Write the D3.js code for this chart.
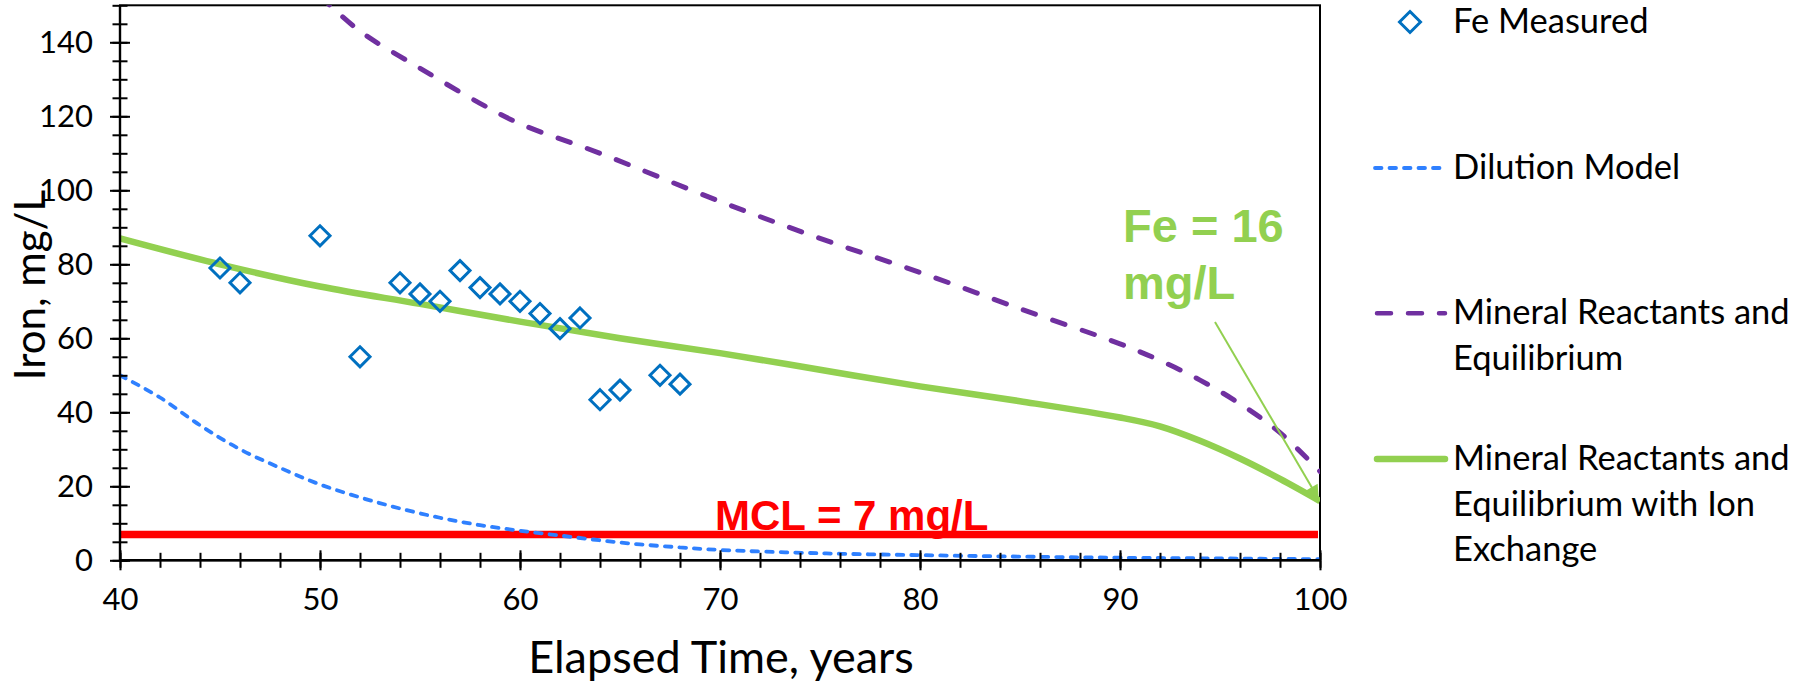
<!DOCTYPE html>
<html>
<head>
<meta charset="utf-8">
<script src="https://cdn.jsdelivr.net/npm/d3@7"></script>
<style>
  html, body { margin: 0; padding: 0; background: #fff; }
  svg { display: block; font-family: Lato, "Open Sans", sans-serif; }
</style>
</head>
<body>
<svg id="chart" width="1808" height="682"></svg>
<script>
// Measured iron concentrations
const measuredYears = [45, 46, 50, 52, 54, 55, 56, 57, 58, 59, 60, 61, 62, 63, 64, 65, 67, 68];
const measuredFe    = [79, 75, 87.7, 55, 75, 72, 70, 78.3, 73.7, 72, 70, 66.7, 62.6, 65.5, 43.4, 46, 50, 47.6];

// Dilution model
const dilutionYears = [40, 42, 44, 46, 48, 50, 52, 54, 56, 58, 60, 62, 64, 66, 68, 70, 75, 80, 85, 90, 95, 100];
const dilutionFe    = [50, 44, 36.5, 30, 25, 20.5, 17, 14, 11.5, 9.5, 8, 6.7, 5.4, 4.3, 3.5, 2.8, 1.9, 1.4, 1.0, 0.7, 0.5, 0.3];

// Mineral reactants and equilibrium
const mineralYears = [50, 52, 55, 58, 60, 64, 70, 75, 80, 85, 90, 92, 94, 96, 98, 100];
const mineralFe    = [152.5, 143, 133, 123.5, 118, 110, 97, 87, 77.8, 68, 58.5, 54, 48.7, 42.3, 34.5, 24];

// Mineral reactants and equilibrium with ion exchange
const ionExYears = [40, 45, 50, 55, 60, 65, 70, 75, 80, 85, 90, 92, 94, 96, 98, 100];
const ionExFe    = [87, 80, 74, 69.3, 64.5, 60, 56, 51.5, 47, 43, 38.6, 36.2, 32.3, 27.5, 22, 16];

// Reference levels and annotations
const mclValue = 7;
const annotatedYear = 100;
const annotatedFe = 16;

// Axis ticks
const xTicks = [40, 50, 60, 70, 80, 90, 100];
const xMinorTicks = d3.range(40, 101, 2);
const yTicks = [0, 20, 40, 60, 80, 100, 120, 140];
const yMinorTicks = d3.range(0, 151, 5);

// Legend entries
const legendLabels = [
  ["Fe Measured"],
  ["Dilution Model"],
  ["Mineral Reactants and", "Equilibrium"],
  ["Mineral Reactants and", "Equilibrium with Ion", "Exchange"]
];

const COLORS = {
  measured: "#0070C0",
  dilution: "#2F80FF",
  mineral: "#7030A0",
  ionEx: "#92D050",
  mcl: "#FF0000"
};

const svg = d3.select("#chart");
const plot = { left: 120, top: 5.3, right: 1320, bottom: 560.3 };

const x = d3.scaleLinear().domain([40, 100]).range([plot.left, plot.right]);
const y = d3.scaleLinear().domain([0, 150]).range([plot.bottom, plot.top]);

const defs = svg.append("defs");
defs.append("clipPath").attr("id", "plot-clip")
  .append("rect")
  .attr("x", plot.left).attr("y", plot.top)
  .attr("width", plot.right - plot.left).attr("height", plot.bottom - plot.top);

defs.append("marker")
  .attr("id", "arrow-head")
  .attr("viewBox", "0 0 10 10")
  .attr("refX", 9).attr("refY", 5)
  .attr("markerWidth", 8).attr("markerHeight", 7)
  .attr("markerUnits", "strokeWidth")
  .attr("orient", "auto")
  .append("path").attr("d", "M0,0 L10,5 L0,10 Z").attr("fill", COLORS.ionEx);

// Plot frame
svg.append("rect")
  .attr("x", plot.left).attr("y", plot.top)
  .attr("width", plot.right - plot.left).attr("height", plot.bottom - plot.top)
  .attr("fill", "none").attr("stroke", "#000").attr("stroke-width", 2);

const line = (xs, ys) => d3.line()
  .x((d, i) => x(xs[i]))
  .y((d, i) => y(ys[i]))
  .curve(d3.curveCatmullRom.alpha(0.5))(xs);

const series = svg.append("g").attr("clip-path", "url(#plot-clip)");

// MCL reference line
series.append("line")
  .attr("x1", x(40)).attr("x2", x(100) - 2)
  .attr("y1", y(mclValue)).attr("y2", y(mclValue))
  .attr("stroke", COLORS.mcl).attr("stroke-width", 7.5);

series.append("path")
  .attr("d", line(dilutionYears, dilutionFe))
  .attr("fill", "none").attr("stroke", COLORS.dilution)
  .attr("stroke-width", 3.8).attr("stroke-linecap", "round")
  .attr("stroke-dasharray", "6.5 8");

series.append("path")
  .attr("d", line(mineralYears, mineralFe))
  .attr("fill", "none").attr("stroke", COLORS.mineral)
  .attr("stroke-width", 5).attr("stroke-linecap", "round")
  .attr("stroke-dasharray", "13 18");

series.append("path")
  .attr("d", line(ionExYears, ionExFe))
  .attr("fill", "none").attr("stroke", COLORS.ionEx)
  .attr("stroke-width", 6.5);

// Measured diamonds
const diamond = r => `M0,${-r} L${r},0 L0,${r} L${-r},0 Z`;
svg.append("g").selectAll("path")
  .data(measuredYears)
  .join("path")
  .attr("transform", (d, i) => `translate(${x(d)},${y(measuredFe[i])})`)
  .attr("d", diamond(10))
  .attr("fill", "none").attr("stroke", COLORS.measured).attr("stroke-width", 3);

// Axes with ticks crossing the axis lines
function crossAxis(outer, inner, transform, major, minor, padding) {
  const g = svg.append("g").attr("transform", transform);
  g.append("g").call(outer().tickValues(minor).tickSize(7.5).tickFormat(""));
  g.append("g").call(inner().tickValues(minor).tickSize(7.5).tickFormat(""));
  g.append("g").call(inner().tickValues(major).tickSize(10).tickFormat(""));
  g.append("g").attr("class", "major")
    .call(outer().tickValues(major).tickSize(10).tickPadding(padding));
  g.selectAll(".domain").remove();
  g.selectAll("line").attr("stroke", "#000").attr("stroke-width", 2);
  g.selectAll(".major").attr("font-size", 31).attr("font-family", "Lato, sans-serif");
  g.selectAll(".major text").attr("fill", "#000");
  return g;
}

crossAxis(() => d3.axisLeft(y), () => d3.axisRight(y),
  `translate(${plot.left},0)`, yTicks, yMinorTicks, 17);

crossAxis(() => d3.axisBottom(x), () => d3.axisTop(x),
  `translate(0,${plot.bottom})`, xTicks, xMinorTicks, 18);

// Axis lines
svg.append("line")
  .attr("x1", plot.left).attr("x2", plot.left)
  .attr("y1", plot.top).attr("y2", plot.bottom + 1)
  .attr("stroke", "#000").attr("stroke-width", 2.4);
svg.append("line")
  .attr("x1", plot.left - 1).attr("x2", plot.right)
  .attr("y1", plot.bottom).attr("y2", plot.bottom)
  .attr("stroke", "#000").attr("stroke-width", 2.4);

// Axis titles
svg.append("text")
  .attr("x", 721).attr("y", 673)
  .attr("text-anchor", "middle")
  .attr("font-size", 45)
  .attr("fill", "#000")
  .text("Elapsed Time, years");

svg.append("text")
  .attr("transform", "translate(45,285) rotate(-90)")
  .attr("text-anchor", "middle")
  .attr("font-size", 42)
  .attr("fill", "#000")
  .text("Iron, mg/L");

// Annotations
svg.append("text")
  .attr("x", 715).attr("y", 530)
  .attr("font-family", "'Liberation Sans', Arial, sans-serif")
  .attr("font-weight", "bold").attr("font-size", 42)
  .attr("fill", COLORS.mcl)
  .text(`MCL = ${mclValue} mg/L`);

const feNote = svg.append("text")
  .attr("font-family", "'Liberation Sans', Arial, sans-serif")
  .attr("font-weight", "bold").attr("font-size", 47)
  .attr("fill", COLORS.ionEx);
feNote.append("tspan").attr("x", 1123).attr("y", 242).text(`Fe = ${annotatedFe}`);
feNote.append("tspan").attr("x", 1123).attr("y", 299).text("mg/L");

svg.append("line")
  .attr("x1", 1215).attr("y1", 322)
  .attr("x2", x(annotatedYear) - 2).attr("y2", y(annotatedFe) - 3)
  .attr("stroke", COLORS.ionEx).attr("stroke-width", 2)
  .attr("marker-end", "url(#arrow-head)");

// Legend
const legend = svg.append("g").attr("font-size", 34.5).attr("fill", "#000");
const legendY = [22, 168, 313.3, 459];
const legendLineX = [1375, 1445];
const lineHeight = 45.5;

legend.append("path")
  .attr("transform", `translate(1410,${legendY[0]})`)
  .attr("d", diamond(10.5))
  .attr("fill", "none").attr("stroke", COLORS.measured).attr("stroke-width", 3);

legend.append("line")
  .attr("x1", legendLineX[0]).attr("x2", legendLineX[1])
  .attr("y1", legendY[1]).attr("y2", legendY[1])
  .attr("stroke", COLORS.dilution).attr("stroke-width", 3.8)
  .attr("stroke-linecap", "round").attr("stroke-dasharray", "6.5 8");

legend.append("line")
  .attr("x1", legendLineX[0] + 2).attr("x2", legendLineX[1])
  .attr("y1", legendY[2]).attr("y2", legendY[2])
  .attr("stroke", COLORS.mineral).attr("stroke-width", 4.5)
  .attr("stroke-linecap", "round").attr("stroke-dasharray", "14 17");

legend.append("line")
  .attr("x1", legendLineX[0] + 2).attr("x2", legendLineX[1])
  .attr("y1", legendY[3]).attr("y2", legendY[3])
  .attr("stroke", COLORS.ionEx).attr("stroke-width", 6.5)
  .attr("stroke-linecap", "round");

legendLabels.forEach((lines, i) => {
  const t = legend.append("text");
  lines.forEach((s, j) => {
    t.append("tspan")
      .attr("x", 1453)
      .attr("y", legendY[i] + 11 + j * lineHeight)
      .text(s);
  });
});
</script>
</body>
</html>
